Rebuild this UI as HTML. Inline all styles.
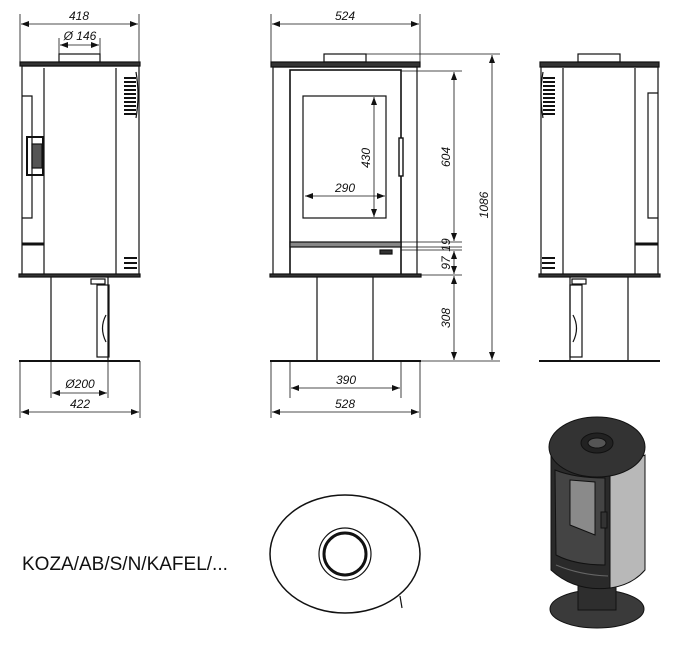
<!DOCTYPE html>
<html><head><meta charset="utf-8"><style>
html,body{margin:0;padding:0;background:#fff;}
svg{display:block;}
text{font-family:"Liberation Sans",sans-serif;font-style:italic;font-size:12px;fill:#111;}
</style></head><body>
<svg width="677" height="648" viewBox="0 0 677 648" xmlns="http://www.w3.org/2000/svg">
<defs>
<marker id="a" markerWidth="8" markerHeight="6" refX="8" refY="3" orient="auto-start-reverse" markerUnits="userSpaceOnUse"><path d="M0,0 L8,3 L0,6z" fill="#111"/></marker>
</defs>
<g stroke="#111" fill="none" stroke-width="1.2">
<!-- LEFT VIEW -->
<rect x="20" y="62" width="120" height="4" fill="#333"/>
<rect x="59" y="54" width="41" height="8"/>
<rect x="22" y="66" width="117" height="209"/>
<line x1="44" y1="68" x2="44" y2="275"/>
<line x1="116" y1="68" x2="116" y2="275"/>
<path d="M22 96 H32 V218 H22"/>
<rect x="27" y="137" width="16" height="38" stroke-width="2"/>
<rect x="32" y="144" width="10" height="24" fill="#555"/>
<line x1="22" y1="244" x2="44" y2="244" stroke-width="3"/>
<path d="M136 72 Q140 95 136 118"/>
<g stroke-width="2"><line x1="124" y1="78" x2="136" y2="78"/><line x1="124" y1="82" x2="136" y2="82"/><line x1="124" y1="86" x2="136" y2="86"/><line x1="124" y1="90" x2="136" y2="90"/><line x1="124" y1="94" x2="136" y2="94"/><line x1="124" y1="98" x2="136" y2="98"/><line x1="124" y1="102" x2="136" y2="102"/><line x1="124" y1="106" x2="136" y2="106"/><line x1="124" y1="110" x2="136" y2="110"/><line x1="124" y1="114" x2="136" y2="114"/>
<line x1="124" y1="258" x2="137" y2="258"/><line x1="124" y1="263" x2="137" y2="263"/><line x1="124" y1="268" x2="137" y2="268"/></g>
<rect x="19" y="274" width="121" height="3" fill="#333"/>
<line x1="51" y1="277" x2="51" y2="361"/>
<line x1="108" y1="277" x2="108" y2="361"/>
<rect x="97" y="285" width="12" height="72"/>
<path d="M106 315 Q99 328 106 342"/>
<rect x="91" y="279" width="14" height="5"/>
<line x1="19" y1="361" x2="140" y2="361" stroke-width="2"/>
<g stroke-width="0.8">
<line x1="20" y1="14" x2="20" y2="62"/><line x1="139" y1="14" x2="139" y2="62"/>
<line x1="21" y1="24" x2="138" y2="24" marker-start="url(#a)" marker-end="url(#a)"/>
<line x1="59" y1="38" x2="59" y2="54"/><line x1="100" y1="38" x2="100" y2="54"/>
<line x1="60" y1="45" x2="99" y2="45" marker-start="url(#a)" marker-end="url(#a)"/>
<line x1="51" y1="361" x2="51" y2="398"/><line x1="108" y1="361" x2="108" y2="398"/>
<line x1="52" y1="393" x2="107" y2="393" marker-start="url(#a)" marker-end="url(#a)"/>
<line x1="20" y1="361" x2="20" y2="418"/><line x1="140" y1="361" x2="140" y2="418"/>
<line x1="21" y1="412" x2="139" y2="412" marker-start="url(#a)" marker-end="url(#a)"/>
</g>
<!-- FRONT VIEW -->
<rect x="271" y="62" width="149" height="5" fill="#333"/>
<rect x="324" y="54" width="42" height="8"/>
<rect x="273" y="67" width="144" height="208"/>
<rect x="290" y="70" width="111" height="205" stroke-width="1.6"/>
<rect x="303" y="96" width="83" height="122"/>
<rect x="399" y="138" width="4" height="38" fill="#fff" stroke-width="1.4"/>
<rect x="290" y="242" width="111" height="5" fill="#888"/>
<rect x="380" y="250" width="12" height="4" fill="#333"/>
<rect x="270" y="274" width="151" height="3" fill="#333"/>
<line x1="317" y1="277" x2="317" y2="361"/>
<line x1="373" y1="277" x2="373" y2="361"/>
<line x1="270" y1="361" x2="421" y2="361" stroke-width="2"/>
<g stroke-width="0.8">
<line x1="271" y1="14" x2="271" y2="62"/><line x1="420" y1="14" x2="420" y2="62"/>
<line x1="272" y1="24" x2="419" y2="24" marker-start="url(#a)" marker-end="url(#a)"/>
<line x1="374" y1="97" x2="374" y2="217" marker-start="url(#a)" marker-end="url(#a)"/>
<line x1="305" y1="196" x2="385" y2="196" marker-start="url(#a)" marker-end="url(#a)"/>
<line x1="366" y1="54" x2="500" y2="54"/>
<line x1="401" y1="71" x2="462" y2="71"/>
<line x1="401" y1="242" x2="462" y2="242"/>
<line x1="401" y1="247" x2="462" y2="247"/>
<line x1="401" y1="250" x2="462" y2="250"/>
<line x1="421" y1="275" x2="462" y2="275"/>
<line x1="421" y1="361" x2="500" y2="361"/>
<line x1="454" y1="72" x2="454" y2="241" marker-start="url(#a)" marker-end="url(#a)"/>
<line x1="454" y1="251" x2="454" y2="274" marker-start="url(#a)" marker-end="url(#a)"/>
<line x1="454" y1="276" x2="454" y2="360" marker-start="url(#a)" marker-end="url(#a)"/>
<line x1="492" y1="55" x2="492" y2="360" marker-start="url(#a)" marker-end="url(#a)"/>
<line x1="290" y1="361" x2="290" y2="398"/><line x1="401" y1="361" x2="401" y2="398"/>
<line x1="291" y1="388" x2="400" y2="388" marker-start="url(#a)" marker-end="url(#a)"/>
<line x1="271" y1="361" x2="271" y2="418"/><line x1="420" y1="361" x2="420" y2="418"/>
<line x1="272" y1="412" x2="419" y2="412" marker-start="url(#a)" marker-end="url(#a)"/>
</g>
<!-- RIGHT VIEW -->
<rect x="540" y="62" width="119" height="5" fill="#333"/>
<rect x="578" y="54" width="42" height="8"/>
<rect x="541" y="67" width="117" height="208"/>
<line x1="563" y1="68" x2="563" y2="275"/>
<line x1="635" y1="68" x2="635" y2="275"/>
<path d="M658 93 H648 V218 H658"/>
<line x1="635" y1="244" x2="658" y2="244" stroke-width="3"/>
<path d="M543 72 Q539 95 543 118"/>
<g stroke-width="2"><line x1="543" y1="78" x2="555" y2="78"/><line x1="543" y1="82" x2="555" y2="82"/><line x1="543" y1="86" x2="555" y2="86"/><line x1="543" y1="90" x2="555" y2="90"/><line x1="543" y1="94" x2="555" y2="94"/><line x1="543" y1="98" x2="555" y2="98"/><line x1="543" y1="102" x2="555" y2="102"/><line x1="543" y1="106" x2="555" y2="106"/><line x1="543" y1="110" x2="555" y2="110"/><line x1="543" y1="114" x2="555" y2="114"/>
<line x1="542" y1="258" x2="555" y2="258"/><line x1="542" y1="263" x2="555" y2="263"/><line x1="542" y1="268" x2="555" y2="268"/></g>
<rect x="539" y="274" width="121" height="3" fill="#333"/>
<line x1="570" y1="277" x2="570" y2="361"/>
<line x1="628" y1="277" x2="628" y2="361"/>
<rect x="570" y="285" width="12" height="72"/>
<path d="M573 315 Q580 328 573 342"/>
<rect x="572" y="279" width="14" height="5"/>
<line x1="539" y1="361" x2="660" y2="361" stroke-width="2"/>
<!-- PLAN -->
<ellipse cx="345" cy="554" rx="75" ry="59" stroke-width="1.5"/>
<circle cx="345" cy="554" r="26"/>
<circle cx="345" cy="554" r="21" stroke-width="3"/>
<line x1="400" y1="596" x2="402" y2="608"/>
</g>
<!-- 3D -->
<g stroke="#111" stroke-width="1">
<ellipse cx="597" cy="609" rx="47" ry="19" fill="#3a3a3a"/>
<rect x="578" y="570" width="38" height="40" fill="#2e2e2e"/>
<path d="M551 455 L551 570 Q575 592 610 588 L610 470 Z" fill="#2a2a2a"/>
<path d="M610 470 L645 455 L645 570 Q632 585 610 588 Z" fill="#b8b8b8"/>
<path d="M555 470 Q575 478 605 478 L605 565 Q575 565 556 555 Z" fill="#444"/>
<path d="M570 480 L595 482 L595 535 L570 525 Z" fill="#8a8a8a"/>
<path d="M556 565 Q580 575 608 576" fill="none" stroke="#666"/>
<rect x="601" y="512" width="6" height="16" fill="#333"/>
<ellipse cx="597" cy="447" rx="48" ry="30" fill="#333"/>
<ellipse cx="597" cy="443" rx="16" ry="10" fill="#222"/>
<ellipse cx="597" cy="443" rx="9" ry="5" fill="#555"/>
</g>
<!-- TEXT -->
<text x="79" y="20" text-anchor="middle">418</text>
<text x="80" y="40" text-anchor="middle">Ø 146</text>
<text x="80" y="388" text-anchor="middle">Ø200</text>
<text x="80" y="408" text-anchor="middle">422</text>
<text x="345" y="20" text-anchor="middle">524</text>
<text x="345" y="192" text-anchor="middle">290</text>
<text x="346" y="384" text-anchor="middle">390</text>
<text x="345" y="408" text-anchor="middle">528</text>
<text transform="translate(370,158) rotate(-90)" text-anchor="middle">430</text>
<text transform="translate(450,157) rotate(-90)" text-anchor="middle">604</text>
<text transform="translate(450,245) rotate(-90)" text-anchor="middle">19</text>
<text transform="translate(450,263) rotate(-90)" text-anchor="middle">97</text>
<text transform="translate(450,318) rotate(-90)" text-anchor="middle">308</text>
<text transform="translate(488,205) rotate(-90)" text-anchor="middle">1086</text>
<text x="22" y="570" style="font-style:normal;font-size:19px">KOZA/AB/S/N/KAFEL/...</text>
</svg>
</body></html>
